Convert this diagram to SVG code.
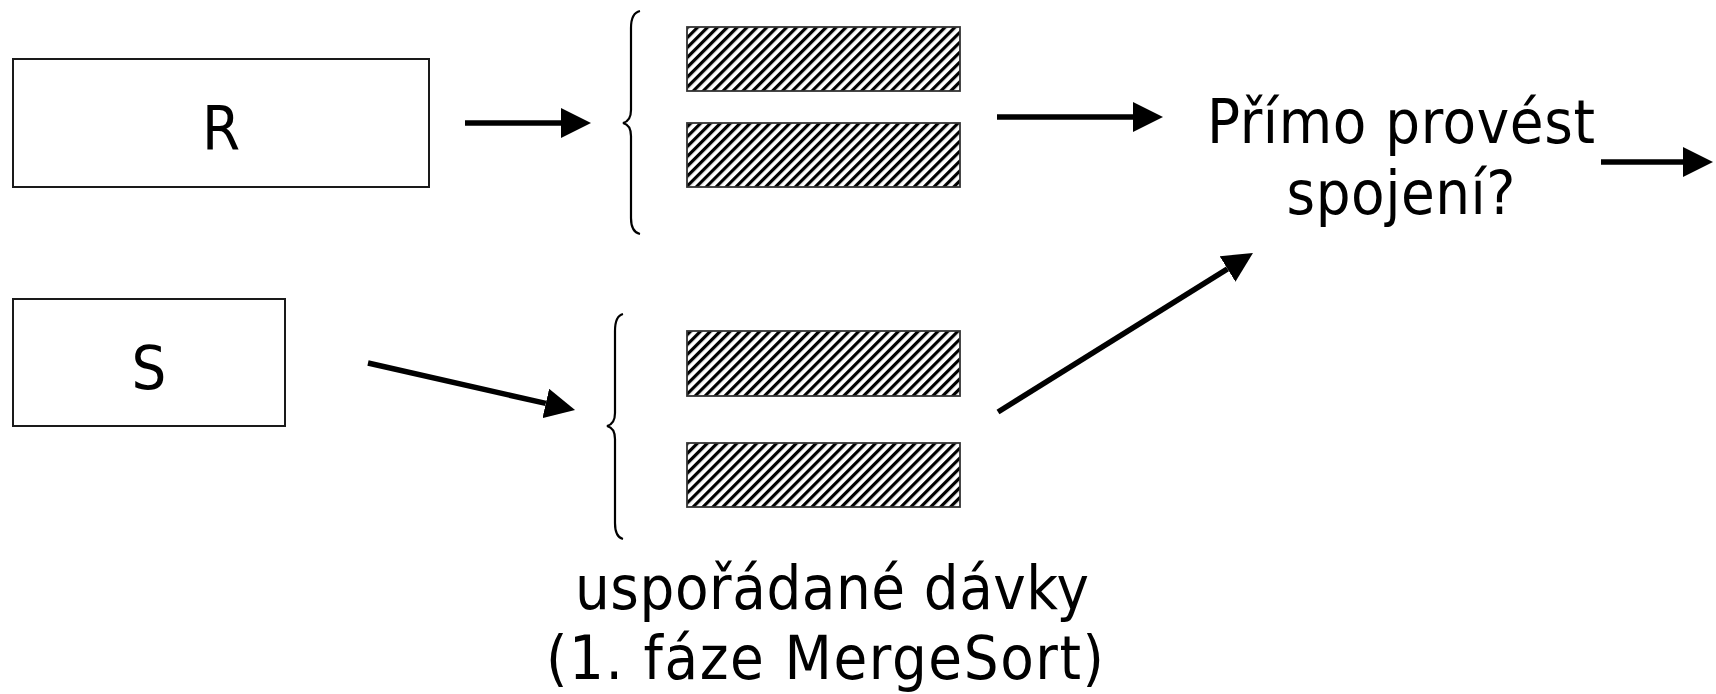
<svg xmlns="http://www.w3.org/2000/svg" width="1716" height="694" viewBox="0 0 1716 694">
<style>
.box{fill:#fff;stroke:#1a1a1a;stroke-width:2}
.run{fill:url(#hatch);stroke:#333;stroke-width:1.8}
.lbl{font-family:"DejaVu Sans Condensed","DejaVu Sans",sans-serif;font-stretch:condensed;font-size:61px;fill:#000;text-anchor:middle}
.conn{stroke:#000;stroke-width:5.5;fill:none;marker-end:url(#ah)}
.brace{stroke:#000;stroke-width:2.2;fill:none}
</style>
<defs>
<pattern id="hatch" patternUnits="userSpaceOnUse" width="7" height="7" patternTransform="rotate(45)">
<rect x="0" y="0" width="7" height="7" fill="#fff"/>
<rect x="0" y="0" width="3.2" height="7" fill="#000"/>
</pattern>
<marker id="ah" markerUnits="userSpaceOnUse" markerWidth="30" markerHeight="30" refX="0" refY="15" orient="auto">
<path d="M0,0 L30,15 L0,30 z" fill="#000"/>
</marker>
</defs>
<rect width="1716" height="694" fill="#fff"/>
<g id="R">
<rect class="box" x="13" y="59" width="416" height="128"/>
<text class="lbl" x="221" y="150">R</text>
</g>
<g id="S">
<rect class="box" x="13" y="299" width="272" height="127"/>
<text class="lbl" x="149" y="389">S</text>
</g>
<g id="runsR">
<path class="brace" d="M640,11 Q631,13 631,28 L631,110 Q631,121 623,123 Q631,125 631,136 L631,218 Q631,232 640,234"/>
<rect class="run" x="687" y="27" width="273" height="64"/>
<rect class="run" x="687" y="123" width="273" height="64"/>
</g>
<g id="runsS">
<path class="brace" d="M623,314 Q615,316 615,331 L615,413 Q615,424 607,426 Q615,428 615,439 L615,523 Q615,537 623,539"/>
<rect class="run" x="687" y="331" width="273" height="65"/>
<rect class="run" x="687" y="443" width="273" height="64"/>
</g>
<g id="runsLabel">
<text class="lbl" x="832" y="609" textLength="514" lengthAdjust="spacing">uspořádané dávky</text>
<text class="lbl" x="825" y="679" textLength="558" lengthAdjust="spacing">(1. fáze MergeSort)</text>
</g>
<g id="join">
<text class="lbl" x="1401" y="143" textLength="388" lengthAdjust="spacing">Přímo provést</text>
<text class="lbl" x="1401" y="214" textLength="229" lengthAdjust="spacing">spojení?</text>
</g>
<g id="connectors">
<line class="conn" x1="465" y1="123" x2="561" y2="123"/>
<line class="conn" x1="368" y1="363" x2="545.8" y2="403.4"/>
<line class="conn" x1="997" y1="117" x2="1133" y2="117"/>
<line class="conn" x1="998" y1="412" x2="1227.5" y2="268.9"/>
<line class="conn" x1="1601" y1="162" x2="1683" y2="162"/>
</g>
</svg>
